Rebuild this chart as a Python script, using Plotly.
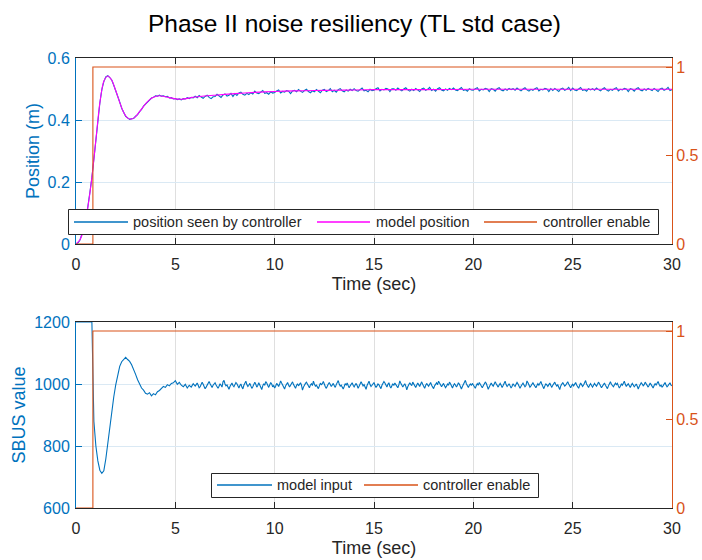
import numpy as np
import plotly.graph_objects as go

# ---------------------------------------------------------------- data
# Sample times of the position log (10 Hz)
time_s = np.round(np.arange(301) * 0.1, 1)

# Position measured by the controller (m), one row per second
position_seen = [
    0.000, 0.004, 0.013, 0.031, 0.052, 0.078, 0.118, 0.167, 0.214, 0.276,
    0.334, 0.401, 0.454, 0.498, 0.524, 0.539, 0.543, 0.537, 0.529, 0.512,
    0.496, 0.476, 0.458, 0.438, 0.425, 0.412, 0.407, 0.402, 0.404, 0.405,
    0.412, 0.417, 0.427, 0.434, 0.445, 0.451, 0.460, 0.464, 0.471, 0.473,
    0.478, 0.477, 0.480, 0.477, 0.478, 0.475, 0.476, 0.471, 0.472, 0.468,
    0.469, 0.466, 0.468, 0.465, 0.469, 0.468, 0.472, 0.469, 0.473, 0.471,
    0.477, 0.472, 0.479, 0.474, 0.470, 0.476, 0.480, 0.473, 0.469, 0.475,
    0.476, 0.483, 0.479, 0.473, 0.481, 0.484, 0.477, 0.480, 0.486, 0.476,
    0.485, 0.479, 0.487, 0.490, 0.483, 0.480, 0.486, 0.482, 0.488, 0.484,
    0.493, 0.487, 0.485, 0.490, 0.495, 0.486, 0.488, 0.483, 0.491, 0.487,
    0.489, 0.494, 0.497, 0.487, 0.492, 0.490, 0.495, 0.493, 0.485, 0.494,
    0.496, 0.491, 0.498, 0.493, 0.489, 0.495, 0.499, 0.492, 0.488, 0.494,
    0.491, 0.498, 0.494, 0.488, 0.496, 0.499, 0.492, 0.495, 0.501, 0.491,
    0.496, 0.490, 0.498, 0.501, 0.494, 0.491, 0.497, 0.493, 0.499, 0.495,
    0.501, 0.495, 0.493, 0.498, 0.503, 0.494, 0.496, 0.491, 0.499, 0.495,
    0.496, 0.501, 0.504, 0.494, 0.499, 0.497, 0.502, 0.500, 0.492, 0.501,
    0.501, 0.496, 0.503, 0.498, 0.494, 0.500, 0.504, 0.497, 0.493, 0.499,
    0.495, 0.502, 0.498, 0.492, 0.500, 0.503, 0.496, 0.499, 0.505, 0.495,
    0.499, 0.493, 0.501, 0.504, 0.497, 0.494, 0.500, 0.496, 0.502, 0.498,
    0.503, 0.497, 0.495, 0.500, 0.505, 0.496, 0.498, 0.493, 0.501, 0.497,
    0.496, 0.501, 0.504, 0.494, 0.499, 0.497, 0.502, 0.500, 0.492, 0.501,
    0.499, 0.493, 0.501, 0.504, 0.497, 0.494, 0.500, 0.496, 0.502, 0.498,
    0.501, 0.496, 0.503, 0.498, 0.494, 0.500, 0.504, 0.497, 0.493, 0.499,
    0.496, 0.501, 0.504, 0.494, 0.499, 0.497, 0.502, 0.500, 0.492, 0.501,
    0.495, 0.502, 0.498, 0.492, 0.500, 0.503, 0.496, 0.499, 0.505, 0.495,
    0.503, 0.497, 0.495, 0.500, 0.505, 0.496, 0.498, 0.493, 0.501, 0.497,
    0.501, 0.496, 0.503, 0.498, 0.494, 0.500, 0.504, 0.497, 0.493, 0.499,
    0.496, 0.501, 0.504, 0.494, 0.499, 0.497, 0.502, 0.500, 0.492, 0.501,
    0.499, 0.493, 0.501, 0.504, 0.497, 0.494, 0.500, 0.496, 0.502, 0.498,
    0.495, 0.502, 0.498, 0.492, 0.500, 0.503, 0.496, 0.499, 0.505, 0.495,
    0.498,
]

# Reference model position (m)
model_time = [0, 0.2, 0.4, 0.6, 0.8, 1.0, 1.2, 1.4, 1.6, 1.8, 2.0, 2.2, 2.4,
              2.6, 2.8, 3.0, 3.2, 3.4, 3.6, 3.8, 4.0, 4.2, 4.5, 5.0, 5.3,
              6.0, 7.0, 8.0, 9.0, 10.0, 11.0, 12.0, 13.0, 14.0, 15.0, 17.5,
              20.0, 22.5, 25.0, 27.5, 30.0]
model_position = [0.000, 0.014, 0.050, 0.120, 0.215, 0.335, 0.455, 0.525,
                  0.542, 0.528, 0.495, 0.457, 0.424, 0.406, 0.403, 0.411,
                  0.427, 0.444, 0.459, 0.470, 0.476, 0.478, 0.475, 0.468,
                  0.467, 0.474, 0.480, 0.485, 0.489, 0.492, 0.494, 0.495,
                  0.496, 0.497, 0.498, 0.498, 0.499, 0.499, 0.499, 0.499,
                  0.499]

# SBUS command: 0-6 s logged at 10 Hz, 6-30 s at 20 Hz
sbus_time = np.concatenate([np.round(np.arange(60) * 0.1, 2),
                            np.round(6 + np.arange(481) * 0.05, 2)])

sbus_transient = [
    1200, 1200, 1200, 1200, 1200, 1200, 1200, 1200, 1200, 880,
    800, 752, 722, 712, 720, 758, 812, 866, 914, 958,
    997, 1031, 1057, 1072, 1081, 1086, 1079, 1073, 1062, 1043,
    1031, 1014, 999, 987, 980, 970, 967, 972, 962, 969,
    965, 975, 979, 986, 992, 989, 998, 994, 1002, 1004,
    1011, 999, 1005, 996, 991, 999, 987, 996, 990, 1001,
]

# Settled part, one row per second
sbus_settled = [
    993, 998, 1003, 996, 988, 991, 1000, 1006, 999, 994, 985, 990, 997, 1002, 1008, 1001, 995, 989, 996, 999,
    1004, 997, 992, 986, 993, 1001, 996, 990, 1007, 1012, 1000, 994, 997, 988, 983, 992, 999, 1003, 995, 991,
    998, 1005, 1001, 993, 987, 995, 1000, 990, 984, 996, 1003, 1009, 998, 992, 996, 1002, 994, 986, 991, 1000,
    1006, 999, 990, 995, 1004, 997, 988, 982, 994, 1001, 996, 1008, 1003, 993, 989, 997, 1005, 1000, 991, 995,
    987, 993, 1002, 998, 992, 1000, 1010, 1003, 995, 989, 984, 994, 999, 1005, 997, 990, 996, 1003, 1007, 998,
    992, 986, 995, 1001, 994, 999, 1004, 996, 980, 990, 998, 1002, 1006, 999, 993, 988, 997, 1001, 995, 1009,
    1000, 993, 996, 990, 985, 994, 1003, 998, 1001, 1008, 996, 991, 986, 995, 1000, 1005, 999, 992, 997, 1002,
    994, 989, 998, 1006, 1011, 1000, 993, 996, 990, 984, 992, 1001, 997, 1003, 995, 988, 994, 999, 1004, 996,
    991, 997, 1002, 995, 986, 993, 999, 1007, 1001, 994, 998, 990, 983, 995, 1003, 1009, 998, 992, 996, 1001,
    1005, 996, 989, 994, 1000, 997, 991, 985, 996, 1002, 1008, 1003, 995, 990, 999, 1004, 993, 987, 994, 1000,
    996, 1003, 998, 992, 988, 997, 1010, 1002, 994, 990, 996, 1001, 993, 981, 991, 998, 1004, 999, 995, 1006,
    1001, 994, 989, 996, 1003, 998, 992, 1000, 1007, 999, 990, 986, 995, 1002, 997, 993, 999, 1005, 996, 990,
    985, 994, 1000, 1004, 998, 1009, 1003, 995, 991, 997, 1002, 994, 988, 993, 1000, 996, 1006, 1001, 992, 987,
    995, 1001, 997, 990, 996, 1004, 999, 993, 984, 992, 998, 1003, 1012, 1001, 994, 989, 996, 1000, 995, 1002,
    997, 991, 986, 995, 1001, 996, 1005, 999, 992, 988, 994, 999, 1006, 1002, 995, 983, 990, 998, 1003, 997,
    993, 1000, 1007, 1001, 994, 990, 997, 1002, 996, 989, 995, 1004, 1009, 998, 992, 996, 1001, 994, 987, 993,
    1001, 996, 992, 999, 1005, 1000, 994, 986, 993, 998, 1003, 997, 991, 995, 1010, 1004, 996, 990, 994, 999,
    1004, 998, 993, 988, 995, 1001, 996, 1002, 1008, 999, 991, 985, 994, 1000, 997, 992, 998, 1003, 995, 990,
    996, 1002, 1006, 998, 993, 997, 989, 982, 994, 1000, 1005, 999, 993, 996, 1002, 1007, 1000, 994, 988, 995,
    999, 994, 1001, 1005, 997, 991, 986, 995, 1003, 998, 992, 997, 1004, 1011, 1000, 993, 989, 996, 1001, 995,
    990, 996, 1002, 997, 993, 999, 1006, 1001, 994, 988, 993, 998, 1003, 996, 990, 985, 994, 1000, 1007, 999,
    995, 991, 997, 1003, 998, 1002, 994, 987, 993, 1000, 996, 1005, 1009, 999, 992, 997, 1001, 994, 989, 996,
    1002, 997, 991, 995, 1000, 993, 984, 992, 998, 1004, 1000, 994, 998, 1006, 1001, 995, 990, 996, 1003, 998,
    992, 987, 995, 1001, 997, 1003, 1008, 999, 993, 996, 990, 994, 1000, 1005, 997, 991, 995, 999, 1004, 996,
    994,
]
sbus_input = sbus_transient + sbus_settled

# Controller enable flag (step at switch-on)
enable_time = [0.0, 0.85, 0.85, 30.0]
enable_flag = [0, 0, 1, 1]

x_ticks = [0, 5, 10, 15, 20, 25, 30]
pos_ticks = [0, 0.2, 0.4, 0.6]
sbus_ticks = [600, 800, 1000, 1200]
flag_ticks = [0, 0.5, 1]

# ---------------------------------------------------------------- style
BLUE = "#0072BD"
MAGENTA = "#FF00FF"
ORANGE = "#D95319"
DARK = "#262626"
XGRID = "#DFDFDF"
YGRID = "#DAE9F4"
FONT = "Liberation Sans, Arial, Helvetica, sans-serif"

W, H = 702, 560
PLOT_L, PLOT_R, PLOT_T, PLOT_B = 76, 672, 58, 508


def px_x(px):
    return (px - PLOT_L) / (PLOT_R - PLOT_L)


def px_y(py):
    return (PLOT_B - py) / (PLOT_B - PLOT_T)


LW = 1.1

fig = go.Figure()
fig.add_trace(go.Scatter(x=time_s, y=position_seen, mode="lines",
                         line=dict(color=BLUE, width=LW),
                         xaxis="x", yaxis="y", showlegend=False))
fig.add_trace(go.Scatter(x=model_time, y=model_position, mode="lines",
                         line=dict(color=MAGENTA, width=LW, shape="spline",
                                   smoothing=0.8),
                         xaxis="x", yaxis="y", showlegend=False))
fig.add_trace(go.Scatter(x=enable_time, y=enable_flag, mode="lines",
                         line=dict(color=ORANGE, width=LW),
                         xaxis="x", yaxis="y2", showlegend=False))
fig.add_trace(go.Scatter(x=sbus_time, y=sbus_input, mode="lines",
                         line=dict(color=BLUE, width=LW),
                         xaxis="x2", yaxis="y3", showlegend=False))
fig.add_trace(go.Scatter(x=enable_time, y=enable_flag, mode="lines",
                         line=dict(color=ORANGE, width=LW),
                         xaxis="x2", yaxis="y4", showlegend=False))


def x_axis(anchor):
    return dict(domain=[0, 1], range=[0, 30], anchor=anchor,
                tickvals=x_ticks, ticks="inside", ticklen=6, tickwidth=1,
                tickcolor=DARK, showline=True, linecolor=DARK, linewidth=1,
                mirror="ticks", showgrid=True, gridcolor=XGRID, gridwidth=1,
                zeroline=False, tickfont=dict(size=16, color=DARK),
                ticklabelstandoff=6, layer="below traces",
                title=dict(text="Time (sec)", standoff=5,
                           font=dict(size=18, color=DARK)))


def left_axis(domain, rng, ticks, title, anchor, standoff):
    return dict(domain=domain, range=rng, anchor=anchor,
                tickvals=ticks, ticks="inside", ticklen=6, tickwidth=1,
                tickcolor=BLUE, showline=True, linecolor=BLUE, linewidth=1,
                showgrid=True, gridcolor=YGRID, gridwidth=1, zeroline=False,
                tickfont=dict(size=16, color=BLUE), ticklabelstandoff=2,
                title=dict(text=title, standoff=standoff,
                           font=dict(size=18, color=BLUE)))


def right_axis(over, anchor):
    return dict(overlaying=over, side="right", anchor=anchor, range=[0, 1.051],
                tickvals=flag_ticks, ticks="inside", ticklen=6, tickwidth=1,
                tickcolor=ORANGE, showline=True, linecolor=ORANGE, linewidth=1,
                showgrid=False, zeroline=False,
                tickfont=dict(size=16, color=ORANGE))


top_dom = [px_y(244), 1.0]
bot_dom = [0.0, px_y(322)]

# ---------------------------------------------------------------- legends
shapes, annotations = [], []


def add_legend(box, yc, entries):
    x0, x1, y0, y1 = box
    shapes.append(dict(type="rect", xref="paper", yref="paper",
                       x0=px_x(x0), x1=px_x(x1), y0=px_y(y1), y1=px_y(y0),
                       fillcolor="white", line=dict(color=DARK, width=1),
                       layer="above"))
    for label, color, lx0, lx1, tx in entries:
        shapes.append(dict(type="line", xref="paper", yref="paper",
                           x0=px_x(lx0), x1=px_x(lx1),
                           y0=px_y(yc), y1=px_y(yc),
                           line=dict(color=color, width=1.4), layer="above"))
        annotations.append(dict(text=label, xref="paper", yref="paper",
                                x=px_x(tx), y=px_y(yc), xanchor="left",
                                yanchor="middle", showarrow=False, borderpad=0,
                                font=dict(size=14.5, color=DARK, family=FONT)))


add_legend((68.5, 658.5, 209.5, 234.5), 222,
           [("position seen by controller", BLUE, 74, 128, 132),
            ("model position", MAGENTA, 317, 370, 375),
            ("controller enable", ORANGE, 484, 537, 542)])
add_legend((211.5, 538.5, 473.5, 497.5), 485,
           [("model input", BLUE, 217, 272, 276),
            ("controller enable", ORANGE, 364, 418, 422)])

fig.update_layout(
    width=W, height=H, template="none",
    margin=dict(l=PLOT_L, r=W - PLOT_R, t=PLOT_T, b=H - PLOT_B),
    paper_bgcolor="white", plot_bgcolor="white",
    font=dict(family=FONT, color=DARK),
    title=dict(text="Phase II noise resiliency (TL std case)",
               x=0.505, xref="container", xanchor="center",
               y=1 - 23 / H, yref="container", yanchor="middle",
               font=dict(size=24.5, color="black")),
    xaxis=x_axis("y"),
    xaxis2=x_axis("y3"),
    yaxis=left_axis(top_dom, [0, 0.6], pos_ticks, "Position (m)", "x", 3),
    yaxis2=right_axis("y", "x"),
    yaxis3=left_axis(bot_dom, [600, 1200], sbus_ticks, "SBUS value", "x2", 3),
    yaxis4=right_axis("y3", "x2"),
    shapes=shapes, annotations=annotations, showlegend=False,
)

fig.write_html("out.html")
